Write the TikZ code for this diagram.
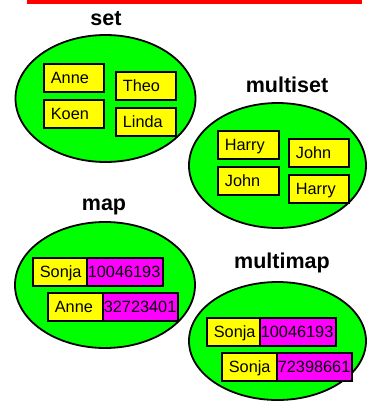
\documentclass[tikz,border=0pt]{standalone}
\usepackage{fontspec}
\setmainfont{Liberation Sans}
\usetikzlibrary{shapes.geometric}
\definecolor{cgreen}{HTML}{00FF00}
\definecolor{cyellow}{HTML}{FFFF00}
\definecolor{cmag}{HTML}{FF00FF}
\definecolor{cred}{HTML}{FF0000}
\begin{document}
\begin{tikzpicture}[x=1pt,y=-1pt,
  blob/.style={ellipse, draw=black, line width=1.8pt, fill=cgreen, inner sep=0pt},
  title/.style={anchor=base, inner sep=0pt, font=\fontsize{21.5}{25}\selectfont\bfseries},
  keybox/.style={draw=black, line width=1.7pt, fill=cyellow, anchor=north west,
    minimum height=28pt, inner ysep=0pt, inner xsep=7pt, align=left,
    text height=11.7pt, text depth=0pt, font=\fontsize{16.3}{19}\selectfont},
  valbox/.style={keybox, fill=cmag, inner xsep=1pt}
]
\useasboundingbox (0,0) rectangle (367,402);
\fill[cred] (27,0) rectangle (362,4);

% set
\node[title] (tset) at (106,25) {set};
\node[blob, minimum width=180pt, minimum height=127pt] (eset) at (105.5,98.5) {};
\node[keybox, text width=46pt] (s1) at (43,63) {Anne};
\node[keybox, text width=46pt] (s2) at (115,71) {Theo};
\node[keybox, text width=46pt] (s3) at (43,99) {Koen};
\node[keybox, text width=46pt] (s4) at (115,107) {Linda};

% multiset
\node[title] (tmset) at (287,92.7) {multiset};
\node[blob, minimum width=177pt, minimum height=125pt] (emset) at (277.5,165.5) {};
\node[keybox, text width=47pt] (m1) at (217,130) {Harry};
\node[keybox, text width=46pt] (m2) at (288,138) {John};
\node[keybox, text width=47pt] (m3) at (217,166) {John};
\node[keybox, text width=46pt] (m4) at (288,174) {Harry};

% map
\node[title] (tmap) at (104,210.7) {map};
\node[blob, minimum width=180pt, minimum height=126pt] (emap) at (105,285) {};
\node[keybox, text width=40pt] (p1) at (32,257) {Sonja};
\node[valbox, text width=74pt] (p1v) at (86,257) {10046193};
\node[keybox, text width=41pt] (p2) at (47,292) {Anne};
\node[valbox, text width=73pt] (p2v) at (102,292) {32723401};

% multimap
\node[title] (tmmap) at (282,268.3) {multimap};
\node[blob, minimum width=177pt, minimum height=118pt] (emmap) at (277.5,341) {};
\node[keybox, text width=39pt] (q1) at (206,317) {Sonja};
\node[valbox, text width=74pt] (q1v) at (259,317) {10046193};
\node[keybox, text width=41pt] (q2) at (221,352) {Sonja};
\node[valbox, text width=73pt] (q2v) at (276,352) {72398661};
\end{tikzpicture}
\end{document}
